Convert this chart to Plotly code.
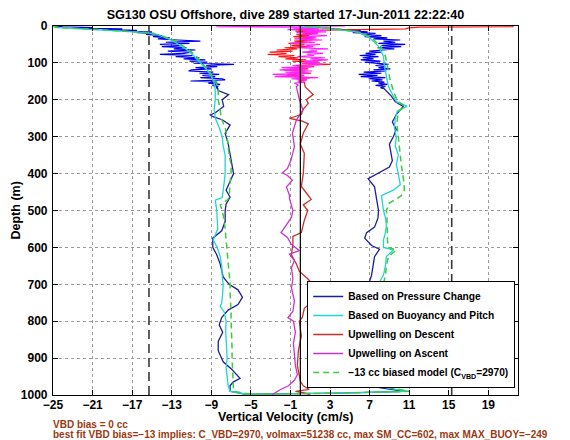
import plotly.graph_objects as go

# ---------------- data ----------------
title_text = "SG130 OSU Offshore, dive 289 started 17-Jun-2011 22:22:40"
x_ticks = [-25, -21, -17, -13, -9, -5, -1, 3, 7, 11, 15, 19]
y_ticks = [0, 100, 200, 300, 400, 500, 600, 700, 800, 900, 1000]

# high-rate near-surface samples, pressure-change velocity (descent / ascent)
top_depth_desc = [0, 2, 4, 6, 8, 10, 12, 14, 16, 18, 20, 23, 26, 29, 32, 35, 38, 41, 44, 47, 50,
                  53, 56, 59, 62, 65, 68, 71, 74, 77, 80, 83, 86, 89, 92, 95, 98, 101, 104, 107,
                  110, 113, 116, 119, 122, 125, 128, 131, 134, 137, 140, 143, 146, 149, 152, 155,
                  158, 161, 164, 167, 170]
top_pc_desc = [-25, -24, -21, -23, -18, -20, -16.5, -18, -15, -16.5, -14.8, -15.6, -14, -14.9, -13.2,
               -14.4, -12.4, -10.1, -13.6, -11.2, -14.2, -12, -14, -11.5, -12.8, -10.6, -13.4, -11,
               -11.8, -14.2, -10.9, -12.6, -10.2, -11.8, -9.6, -11.2, -9.4, -10.8, -6.7, -9.5, -8.4,
               -10.6, -9, -11, -11.3, -8.8, -10.2, -8.2, -9.9, -8.6, -10.1, -7.9, -7.6, -11.1, -8.4,
               -9.3, -8.1, -8.9, -8.3, -8.5, -8.3]
top_depth_asc = [170, 167, 164, 161, 158, 155, 152, 149, 146, 143, 140, 137, 134, 131, 128, 125, 122,
                 119, 116, 113, 110, 107, 104, 101, 98, 95, 92, 89, 86, 83, 80, 77, 74, 71, 68, 65,
                 62, 59, 56, 53, 50, 47, 44, 41, 38, 35, 32, 29, 26, 23, 20, 18, 16, 14, 12, 10, 8,
                 6, 4, 2, 0]
top_pc_asc = [8.4, 8.1, 8.6, 7.6, 8.8, 7.9, 8.5, 7.2, 8.3, 6.9, 8.6, 6.1, 7.8, 5.9, 8.2, 6.4, 8.7,
              7.4, 9.1, 7.9, 8.6, 7.6, 8.9, 7.3, 6.5, 8.1, 6.1, 7.4, 6.3, 7.9, 6.0, 7.6, 6.6, 8.2,
              7.0, 8.4, 9.5, 7.8, 10.2, 8.2, 10.6, 7.9, 9.6, 8.4, 10.1, 7.4, 8.8, 6.5, 8.2, 6.2, 7.6,
              5.3, 6.8, 5.6, 6.1, 4.4, 3.6, 2.4, 1.2, 0.5, 0.0]

# smoothed pressure-change velocity
pc_depth_desc = [150, 160, 175, 186, 200, 218, 235, 241, 245, 254, 268, 291, 318, 345, 373, 400, 427,
                 445, 464, 482, 500, 530, 555, 575, 600, 620, 645, 680, 700, 715, 735, 755, 770, 790,
                 810, 830, 855, 880, 910, 930, 955, 965, 975, 990, 998]
pc_desc = [-9.0, -8.5, -8.3, -7.25, -7.9, -7.75, -8.6, -9.1, -8.9, -7.9, -7.1, -7.6, -7.3, -7.1,
           -6.95, -6.75, -7.2, -7.5, -7.1, -7.5, -7.6, -7.6, -7.95, -8.85, -8.85, -8.45, -8.1, -7.8,
           -7.2, -6.3, -5.85, -6.3, -7.3, -7.95, -8.2, -7.85, -8.3, -8.3, -7.8, -6.95, -6.1, -6.8,
           -7.1, -7.1, -5.5]
pc_depth_asc = [995, 990, 980, 960, 930, 900, 870, 840, 810, 780, 760, 745, 725, 700, 675, 650, 625,
                605, 595, 575, 560, 545, 520, 500, 473, 436, 414, 398, 382, 365, 345, 320, 300, 280,
                260, 240, 218, 205, 190, 175, 165, 150]
pc_asc = [4.0, 10.5, 8.0, 7.2, 7.0, 7.3, 6.8, 7.0, 6.7, 7.0, 7.3, 7.0, 7.1, 6.9, 7.2, 7.35, 7.5, 8.0,
          7.2, 6.5, 6.7, 7.5, 7.85, 7.9, 7.7, 7.5, 6.85, 8.0, 9.0, 9.3, 9.2, 9.0, 9.4, 9.7, 9.3, 9.7,
          10.4, 9.6, 9.2, 8.6, 8.3, 8.2]

# buoyancy/pitch velocity and biased model
model_depth_desc = [0, 4, 11, 18, 25, 36, 50, 64, 80, 100, 120, 136, 155, 175, 200, 225, 250, 275,
                    300, 325, 350, 375, 400, 425, 450, 465, 472, 485, 500, 525, 550, 580, 600, 625,
                    650, 675, 700, 725, 750, 760, 775, 800, 825, 850, 875, 900, 925, 950, 975, 990, 998]
buoy_desc = [-25, -24.8, -20, -15.5, -14.3, -13.2, -12.3, -11.5, -10.8, -10.1, -9.4, -9.0, -8.7, -8.6,
             -8.6, -8.7, -8.6, -8.2, -7.9, -7.8, -7.6, -7.6, -7.6, -7.7, -7.8, -7.9, -8.6, -8.5, -8.45,
             -8.4, -8.35, -8.8, -8.4, -8.1, -7.95, -7.9, -7.8, -7.85, -7.95, -8.1, -7.7, -7.5, -7.55,
             -7.5, -7.45, -7.4, -7.5, -7.4, -7.3, -7.1, -5.5]
model_desc = [-25, -24.5, -19.5, -15.3, -14.2, -13.0, -12.1, -11.3, -10.6, -9.9, -9.3, -8.9, -8.5,
              -8.3, -8.3, -8.1, -8.0, -7.6, -7.4, -7.3, -7.2, -7.0, -7.0, -7.1, -7.2, -7.2, -7.4, -8.1,
              -7.9, -7.7, -7.6, -7.5, -7.45, -7.35, -7.3, -7.2, -7.1, -7.1, -7.05, -7.0, -7.0, -7.0,
              -6.95, -6.95, -6.9, -6.9, -6.85, -6.8, -6.75, -6.75, -5.0]
model_depth_asc = [995, 990, 980, 960, 930, 900, 870, 840, 810, 780, 765, 750, 725, 700, 675, 650,
                   625, 607, 600, 580, 560, 540, 520, 500, 480, 460, 445, 430, 400, 375, 350, 325,
                   300, 275, 250, 230, 218, 205, 190, 175, 164, 150, 136, 109, 82, 55, 32, 18, 14, 8,
                   4, 0]
buoy_asc = [4.0, 11.0, 8.6, 8.2, 8.3, 8.1, 8.2, 8.0, 8.0, 7.9, 7.7, 7.6, 7.7, 7.9, 8.4, 8.6, 8.7, 9.4,
            8.4, 8.4, 8.6, 8.7, 8.6, 8.4, 8.3, 8.2, 9.4, 10.1, 9.9, 9.7, 9.9, 9.6, 9.7, 9.5, 9.6, 9.8,
            10.8, 9.7, 9.4, 9.1, 8.9, 8.8, 8.7, 8.5, 8.4, 7.9, 7.0, 6.0, 5.0, 3.5, 2.0, 0.0]
model_asc = [4.0, 11.0, 9.0, 8.7, 8.6, 8.6, 8.6, 8.5, 8.5, 8.4, 8.35, 8.3, 8.3, 8.4, 8.6, 8.7, 8.9,
             9.7, 8.9, 8.8, 8.8, 8.8, 8.75, 8.7, 9.0, 10.2, 10.5, 10.5, 10.3, 10.2, 10.1, 10.0, 9.9,
             9.8, 9.8, 10.0, 10.6, 9.9, 9.6, 9.4, 9.3, 9.1, 9.0, 8.8, 8.6, 8.1, 7.2, 6.2, 5.2, 3.8,
             2.2, 0.0]

# upwelling on descent (red): near-surface high-rate part and smoothed part
up_desc_top_depth = [0, 2, 3, 5, 8, 10, 12, 14, 16, 18, 20, 23, 26, 29, 32, 35, 38, 41, 44, 47, 50,
                     53, 56, 59, 62, 65, 68, 71, 74, 77, 80, 83, 86, 89, 92, 95, 98, 101, 104, 107,
                     110, 113, 116, 119, 122, 125, 128, 131, 134, 137, 140, 143, 146, 149, 152]
up_desc_top = [21.5, 21.5, 12, 11, 10.6, 2.5, 0.8, -0.5, 1.3, 0.2, 1.6, -0.4, 0.9, -0.7, 1.4, 0.1,
               1.2, -0.6, 0.7, -1.2, 0.4, -0.9, 1.0, -1.6, -0.3, -2.4, -0.8, -3.1, -1.4, -3.3, -0.6,
               -2.2, -0.2, -1.5, 0.6, -0.8, 1.8, 0.2, 3.0, -0.5, 1.4, -1.0, 0.8, -1.7, 0.5, -0.9, 1.1,
               -1.3, 0.3, -0.6, 0.9, -0.4, 0.6, -0.2, 0.4]
up_desc_depth = [152, 165, 186, 200, 210, 225, 240, 250, 258, 265, 290, 320, 345, 400, 435, 470, 485,
                 500, 527, 560, 570, 590, 620, 645, 665, 685, 710, 725, 745, 765, 790, 800, 840, 880,
                 920, 963, 975, 985, 990, 995, 1000]
up_desc = [0.4, 0.5, 1.3, 0.6, 0.8, 0.3, 0.1, -1.1, 0.2, 0.8, 0.3, 0.0, 0.4, 0.3, 0.1, 1.1, 0.3,
           0.75, 0.4, 0.1, -0.75, -0.75, -0.9, -0.4, -0.1, 0.75, 1.6, 1.95, 1.3, 0.4, 0.2, -0.1, 0.1,
           -0.2, -0.3, 0.0, 0.3, 0.9, -0.5, 0.5, 1.0]

# upwelling on ascent (magenta)
up_asc_top_depth = [0, 2, 4, 6, 8, 10, 12, 14, 16, 18, 20, 23, 26, 29, 32, 35, 38, 41, 44, 47, 50,
                    53, 56, 59, 62, 65, 68, 71, 74, 77, 80, 83, 86, 89, 92, 95, 98, 101, 104, 107,
                    110, 113, 116, 119, 122, 125, 128, 131, 134, 137, 140, 143, 146, 149, 152, 155,
                    160]
up_asc_top = [4.5, -8.5, 2.2, -0.8, 1.9, -1.3, 2.4, 0.3, 2.6, -0.4, 1.8, 0.2, 2.7, 0.5, 1.6, -0.6,
              2.2, 0.4, 1.5, -1.0, 2.0, 0.6, 1.3, -0.4, 2.8, 0.9, 1.7, 0.2, 2.3, 0.7, 1.4, -0.3, 2.5,
              1.0, 2.8, 0.4, 1.9, 0.1, 2.2, -0.8, 1.3, -1.9, 0.6, -2.1, 1.2, -1.5, 0.9, -2.8, 0.4,
              -2.6, 1.8, -0.9, 0.7, -0.3, 0.5, -0.6, -0.2]
up_asc_depth = [160, 164, 200, 227, 255, 290, 327, 364, 386, 398, 405, 418, 436, 459, 467, 491, 500,
                518, 527, 560, 573, 590, 609, 618, 636, 655, 685, 710, 745, 773, 790, 800, 830, 860,
                890, 920, 945, 960, 975, 985, 995, 1000]
up_asc = [-0.2, -0.4, -0.1, 0.25, -0.4, -0.8, -0.6, -0.95, -1.3, -1.8, -1.3, -0.8, -1.4, -1.1, -1.1,
          -0.8, -0.75, -0.9, -1.1, -1.95, -1.3, -0.95, -0.1, -1.1, -0.6, -0.9, -0.75, -0.9, -0.6,
          -0.75, -1.25, -0.7, -0.5, -0.7, -0.6, -0.5, -0.3, -0.6, -1.2, -2.0, -2.6, -2.9]

# reference lines: zero line and the dashed limits
zero_line = 0
limit_lines = [-15.3, 15.3]

legend_names = ["Based on Pressure Change", "Based on Buoyancy and Pitch",
                "Upwelling on Descent", "Upwelling on Ascent",
                "\u221213 cc biased model (C<sub>VBD</sub>=2970)"]
note1 = "VBD bias = 0 cc"
note2 = ("best fit VBD bias=\u221213 implies: C_VBD=2970, volmax=51238 cc, "
         "max SM_CC=602, max MAX_BUOY=\u2212249")

# ---------------- styling ----------------
NAVY = "#1e1e96"
BLUE = "#0000f0"
CYAN = "#22d4d4"
GREEN = "#3ccc3c"
RED_D = "#c8302c"
RED_B = "#ff1414"
MAG_D = "#cc33cc"
MAG_B = "#ff22ff"
FONT = "Liberation Sans, Arial, Helvetica, sans-serif"

fig = go.Figure()

# high-rate near-surface samples (not in legend)
fig.add_trace(go.Scatter(x=top_pc_desc, y=top_depth_desc, mode="lines",
                         line=dict(color=BLUE, width=1.2), showlegend=False, hoverinfo="skip"))
fig.add_trace(go.Scatter(x=top_pc_asc, y=top_depth_asc, mode="lines",
                         line=dict(color=BLUE, width=1.2), showlegend=False, hoverinfo="skip"))
fig.add_trace(go.Scatter(x=up_desc_top, y=up_desc_top_depth, mode="lines",
                         line=dict(color=RED_B, width=1.2), showlegend=False, hoverinfo="skip"))
fig.add_trace(go.Scatter(x=up_asc_top, y=up_asc_top_depth, mode="lines",
                         line=dict(color=MAG_B, width=1.2), showlegend=False, hoverinfo="skip"))

# legend series, in legend order
fig.add_trace(go.Scatter(x=pc_desc + pc_asc, y=pc_depth_desc + pc_depth_asc, mode="lines",
                         line=dict(color=NAVY, width=1.3), name=legend_names[0]))
fig.add_trace(go.Scatter(x=buoy_desc + buoy_asc, y=model_depth_desc + model_depth_asc, mode="lines",
                         line=dict(color=CYAN, width=1.3), name=legend_names[1]))
fig.add_trace(go.Scatter(x=up_desc, y=up_desc_depth, mode="lines",
                         line=dict(color=RED_D, width=1.3), name=legend_names[2]))
fig.add_trace(go.Scatter(x=up_asc, y=up_asc_depth, mode="lines",
                         line=dict(color=MAG_D, width=1.3), name=legend_names[3]))
fig.add_trace(go.Scatter(x=model_desc + model_asc, y=model_depth_desc + model_depth_asc, mode="lines",
                         line=dict(color=GREEN, width=1.5, dash="6px,4px"), name=legend_names[4]))

fig.add_vline(x=zero_line, line=dict(color="black", width=1.2), layer="above")
for v in limit_lines:
    fig.add_vline(x=v, line=dict(color="#3a3a3a", width=1.6, dash="9px,5px"), layer="above")

axis_common = dict(showline=True, linecolor="black", linewidth=1.2, mirror="ticks",
                   ticks="inside", ticklen=5, tickcolor="black", zeroline=False,
                   showgrid=True, gridcolor="#9a9a9a", gridwidth=1, griddash="dot",
                   tickfont=dict(family=FONT, size=12, color="black", weight="bold"))

fig.update_xaxes(range=[-25, 22], tickvals=x_ticks, ticklabelstandoff=-2, **axis_common)
fig.update_yaxes(range=[1000, 0], tickvals=y_ticks, ticklabelstandoff=2, **axis_common)

fig.update_layout(
    width=570, height=440,
    margin=dict(l=53, r=52, t=26, b=45),
    paper_bgcolor="white", plot_bgcolor="white",
    font=dict(family=FONT, size=12, color="black", weight="bold"),
    title=dict(text=title_text, x=0.5, xref="paper", y=1 - 15 / 440, yanchor="middle",
               font=dict(family=FONT, size=12.6, color="black", weight="bold")),
    legend=dict(x=0.994, y=0.019, xanchor="right", yanchor="bottom",
                bgcolor="white", bordercolor="black", borderwidth=1,
                font=dict(family=FONT, size=10.2, color="black", weight="bold"),
                tracegroupgap=0, itemwidth=30),
    showlegend=True,
)

fig.add_annotation(text="Vertical Velocity (cm/s)", xref="paper", yref="paper",
                   x=0.5, y=(395 - 417) / 369, xanchor="center", yanchor="middle",
                   showarrow=False, font=dict(family=FONT, size=12.5, color="black", weight="bold"))
fig.add_annotation(text="Depth (m)", xref="paper", yref="paper", textangle=-90,
                   x=(15 - 53) / 465, y=0.5, xanchor="center", yanchor="middle",
                   showarrow=False, font=dict(family=FONT, size=12.5, color="black", weight="bold"))
fig.add_annotation(text=note1, xref="paper", yref="paper",
                   x=(51 - 53) / 465, y=(395 - 424) / 369, xanchor="left", yanchor="middle",
                   showarrow=False, font=dict(family=FONT, size=10, color="#9a3a12", weight="bold"))
fig.add_annotation(text=note2, xref="paper", yref="paper",
                   x=(51 - 53) / 465, y=(395 - 434) / 369, xanchor="left", yanchor="middle",
                   showarrow=False, font=dict(family=FONT, size=10, color="#9a3a12", weight="bold"))

fig.write_html("out.html", config={"displayModeBar": False},
               post_script="document.body.style.margin='0px';")
